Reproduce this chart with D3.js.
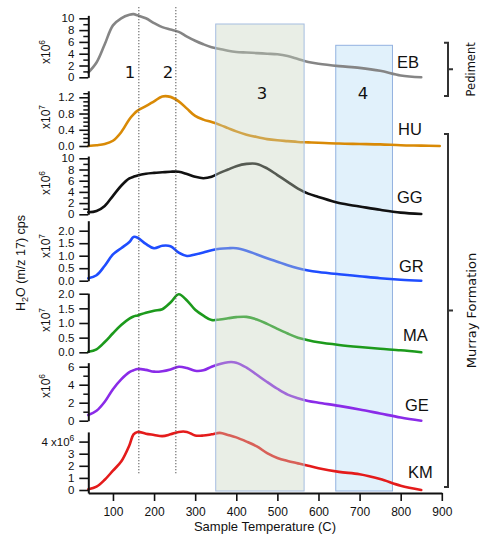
<!DOCTYPE html>
<html lang="en">
<head>
<meta charset="UTF-8">
<title>H2O evolved gas traces</title>
<script src="https://d3js.org/d3.v7.min.js"></script>
<style>
    body { margin: 0; padding: 0; background: #fff; }
    svg { display: block; }
    text { font-family: "Liberation Sans", Arial, Helvetica, sans-serif; fill: #111; }
    .num, .bracket-label { font-family: "DejaVu Sans", Verdana, sans-serif; }
</style>
</head>
<body>
<div id="chart"></div>
<script>
// temperature grid (C) shared by every trace
const temps = [40, 60, 80, 100, 120, 140, 150, 160, 180, 200,
    220, 240, 260, 280, 300, 320, 340, 360, 380, 400,
    425, 450, 475, 500, 525, 550, 575, 600,
    650, 700, 750, 800, 850, 895];

// trace values, in units of the panel multiplier
const eb = [0.8, 2.5, 5.6, 8.8, 10.0, 10.6, 10.7, 10.5, 10.0, 9.2,
    8.5, 8.1, 7.7, 6.9, 6.2, 5.6, 5.1, 4.8, 4.5, 4.3,
    4.2, 4.1, 4.0, 3.9, 3.6, 3.1, 2.6, 2.3,
    1.9, 1.6, 1.1, 0.3, 0.0, null];
const hu = [0.0, 0.02, 0.05, 0.13, 0.34, 0.66, 0.78, 0.87, 0.98, 1.1,
    1.22, 1.21, 1.1, 0.92, 0.74, 0.65, 0.59, 0.52, 0.44, 0.36,
    0.28, 0.22, 0.17, 0.14, 0.12, 0.1, 0.09, 0.08,
    0.06, 0.05, 0.04, 0.02, 0.01, 0.0];
const gg = [0.36, 0.6, 1.5, 3.3, 5.1, 6.4, 6.7, 6.95, 7.25, 7.4,
    7.5, 7.6, 7.6, 7.2, 6.7, 6.45, 6.7, 7.4, 8.0, 8.6,
    9.0, 9.0, 8.2, 7.0, 5.8, 4.6, 3.7, 3.1,
    2.0, 1.4, 0.8, 0.3, 0.05, null];
const gr = [0.1, 0.22, 0.6, 1.05, 1.3, 1.55, 1.75, 1.72, 1.47, 1.3,
    1.4, 1.38, 1.12, 0.99, 1.05, 1.13, 1.22, 1.28, 1.3, 1.3,
    1.2, 1.05, 0.9, 0.76, 0.62, 0.5, 0.41, 0.35,
    0.26, 0.18, 0.1, 0.04, 0.0, null];
const ma = [0.02, 0.1, 0.35, 0.65, 0.93, 1.15, 1.22, 1.26, 1.35, 1.42,
    1.47, 1.7, 1.98, 1.77, 1.45, 1.25, 1.1, 1.12, 1.16, 1.2,
    1.21, 1.12, 0.97, 0.8, 0.64, 0.5, 0.41, 0.34,
    0.25, 0.18, 0.12, 0.07, 0.0, null];
const ge = [0.63, 1.1, 2.1, 3.5, 4.6, 5.4, 5.6, 5.75, 5.65, 5.45,
    5.5, 5.7, 6.0, 5.85, 5.55, 5.6, 6.0, 6.3, 6.5, 6.45,
    5.9, 5.1, 4.3, 3.55, 2.9, 2.5, 2.2, 2.0,
    1.65, 1.25, 0.8, 0.35, 0.0, null];
const km = [0.06, 0.28, 0.85, 1.6, 2.35, 3.7, 4.6, 4.8, 4.65, 4.55,
    4.45, 4.6, 4.8, 4.8, 4.5, 4.5, 4.6, 4.72, 4.55, 4.35,
    4.0, 3.6, 3.05, 2.65, 2.4, 2.2, 2.0, 1.8,
    1.5, 1.3, 0.9, 0.35, 0.0, null];

// tick labels
const ticksTen = [0, 2, 4, 6, 8, 10];
const minorTen = [1, 3, 5, 7, 9];
const ticksHU = [0, 0.4, 0.8, 1.2];
const minorHU = [0.1, 0.2, 0.3, 0.5, 0.6, 0.7, 0.9, 1.0, 1.1, 1.3];
const ticksTwo = [0, 0.5, 1.0, 1.5, 2.0];
const ticksGE = [0, 2, 4, 6];
const minorGE = [1, 3, 5];
const ticksKM = [0, 1, 2, 3, 4];
const xTicks = [100, 200, 300, 400, 500, 600, 700, 800, 900];

// temperature regions
const region3 = [350, 565];
const region4 = [642, 780];
const stepLines = [163, 253];

const W = 480, H = 535;
const svg = d3.select("#chart").append("svg")
    .attr("width", W)
    .attr("height", H);

const x = d3.scaleLinear().domain([40, 900]).range([88.3, 441.8]);
const axisX = 88.3;

// one entry per panel: baseline pixel, pixels per unit, axis top value
const panels = [
    {name: "EB", data: eb, color: "#858585", zero: 77.3, unit: 5.9, lo: 0, hi: 10.5,
        ticks: ticksTen, minor: minorTen, fmt: d3.format("d"), exp: "6", multY: 52, lx: 397, ly: 68},
    {name: "HU", data: hu, color: "#d98a06", zero: 146, unit: 40.6, lo: 0, hi: 1.36,
        ticks: ticksHU, minor: minorHU, fmt: d3.format(".1f"), exp: "7", multY: 117, lx: 398, ly: 135},
    {name: "GG", data: gg, color: "#111111", zero: 214.3, unit: 5.6, lo: 0, hi: 10.4,
        ticks: ticksTen, minor: minorTen, fmt: d3.format("d"), exp: "6", multY: 183, lx: 397, ly: 203},
    {name: "GR", data: gr, color: "#1f4dff", zero: 280.7, unit: 25, lo: 0, hi: 2.4,
        ticks: ticksTwo, minor: [], fmt: d3.format(".1f"), exp: "7", multY: 246, lx: 399, ly: 272},
    {name: "MA", data: ma, color: "#1c9a1c", zero: 352.3, unit: 29.3, lo: 0, hi: 2.02,
        ticks: ticksTwo, minor: [], fmt: d3.format(".1f"), exp: "7", multY: 320, lx: 403, ly: 341},
    {name: "GE", data: ge, color: "#8a2be8", zero: 420.7, unit: 9, lo: 0, hi: 6.45,
        ticks: ticksGE, minor: minorGE, fmt: d3.format("d"), exp: "6", multY: 386, lx: 405, ly: 411},
    {name: "KM", data: km, color: "#e41b1b", zero: 490, unit: 12.1, lo: -0.25, hi: 4.8,
        ticks: ticksKM, minor: [], fmt: d3.format("d"), exp: null, multY: null, lx: 408, ly: 478}
];

const plotTop = 7, plotBottom = 491;

// region 4 sits behind the traces
svg.append("rect")
    .attr("x", x(region4[0]))
    .attr("y", 45.3)
    .attr("width", x(region4[1]) - x(region4[0]))
    .attr("height", plotBottom - 45.3)
    .attr("fill", "#e1f1fb")
    .attr("stroke", "#93b2e0")
    .attr("stroke-width", 1);

// traces
panels.forEach(p => {
    p.y = d3.scaleLinear()
        .domain([p.lo, p.hi])
        .range([p.zero - p.lo * p.unit, p.zero - p.hi * p.unit]);

    const line = d3.line()
        .defined(d => d[1] != null)
        .x(d => x(d[0]))
        .y(d => p.y(d[1]))
        .curve(d3.curveCatmullRom.alpha(0.5));

    svg.append("path")
        .datum(temps.map((t, i) => [t, p.data[i]]))
        .attr("fill", "none")
        .attr("stroke", p.color)
        .attr("stroke-width", 2.6)
        .attr("stroke-linejoin", "round")
        .attr("stroke-linecap", "round")
        .attr("d", line);
});

// dotted step markers
svg.selectAll("line.step")
    .data(stepLines)
    .enter().append("line")
    .attr("class", "step")
    .attr("x1", d => x(d)).attr("x2", d => x(d))
    .attr("y1", plotTop).attr("y2", 475)
    .attr("stroke", "#555")
    .attr("stroke-width", 1)
    .attr("stroke-dasharray", "1.3,1.7");

// region 3 is laid over the traces, washing them out
svg.append("rect")
    .attr("x", x(region3[0]))
    .attr("y", 24)
    .attr("width", x(region3[1]) - x(region3[0]))
    .attr("height", plotBottom - 24)
    .attr("fill", "rgb(196,210,190)")
    .attr("fill-opacity", 0.38)
    .attr("stroke", "#a6bde0")
    .attr("stroke-width", 1);

// y axes
panels.forEach(p => {
    const gAxis = svg.append("g").attr("transform", `translate(${axisX},0)`);

    gAxis.append("g")
        .call(d3.axisLeft(p.y).tickValues(p.minor).tickSize(5).tickSizeOuter(0).tickFormat(""))
        .call(g => g.select(".domain").remove())
        .selectAll("line").attr("stroke", "#111").attr("stroke-width", 1.5);

    const major = gAxis.append("g")
        .call(d3.axisLeft(p.y).tickValues(p.ticks).tickSize(9).tickSizeOuter(0)
            .tickPadding(5).tickFormat(p.fmt));
    major.select(".domain").attr("stroke", "#111").attr("stroke-width", 2);
    major.selectAll("line").attr("stroke", "#111").attr("stroke-width", 1.6);
    major.selectAll("text")
        .attr("font-size", 11.5)
        .attr("font-family", "Liberation Sans, Arial, sans-serif")
        .attr("fill", "#111");

    if (p.name === "KM") {
        const t = major.selectAll(".tick text").filter(d => d === 4);
        t.text("4 x10");
        t.append("tspan").attr("dy", -5).attr("font-size", 8.5).text("6");
    }

    if (p.exp) {
        const m = svg.append("text")
            .attr("transform", `translate(50,${p.multY}) rotate(-90)`)
            .attr("text-anchor", "middle")
            .attr("font-size", 12);
        m.append("tspan").text("x10");
        m.append("tspan").attr("dy", -5).attr("font-size", 8.5).text(p.exp);
    }

    svg.append("text")
        .attr("x", p.lx)
        .attr("y", p.ly)
        .attr("font-size", 16.5)
        .text(p.name);
});

// x axis
const xAxis = svg.append("g")
    .attr("transform", "translate(0,493)")
    .call(d3.axisBottom(x).tickValues(xTicks).tickSize(8).tickSizeOuter(0).tickPadding(6));
xAxis.select(".domain").attr("stroke", "#111").attr("stroke-width", 2);
xAxis.selectAll("line").attr("stroke", "#111").attr("stroke-width", 1.6);
xAxis.selectAll("text")
    .attr("font-size", 12)
    .attr("font-family", "Liberation Sans, Arial, sans-serif")
    .attr("fill", "#111");

svg.append("text")
    .attr("x", 265)
    .attr("y", 531)
    .attr("text-anchor", "middle")
    .attr("font-size", 13)
    .text("Sample Temperature (C)");

// y title
const yt = svg.append("text")
    .attr("transform", "translate(25,263) rotate(-90)")
    .attr("text-anchor", "middle")
    .attr("font-size", 12.5);
yt.append("tspan").text("H");
yt.append("tspan").attr("dy", 3).attr("font-size", 9).text("2");
yt.append("tspan").attr("dy", -3).text("O (m/z 17) cps");

// region numbers
const regionNums = [
    {t: "1", x: 130, y: 78},
    {t: "2", x: 168, y: 78},
    {t: "3", x: 262, y: 99},
    {t: "4", x: 363, y: 99}
];
svg.selectAll("text.num")
    .data(regionNums)
    .enter().append("text")
    .attr("class", "num")
    .attr("x", d => d.x)
    .attr("y", d => d.y)
    .attr("text-anchor", "middle")
    .attr("font-size", 16.5)
    .text(d => d.t);

// formation brackets on the right
const brackets = [
    {label: "Pediment", top: 42.7, bottom: 96, size: 11.5},
    {label: "Murray Formation", top: 134, bottom: 487, size: 13}
];
brackets.forEach(b => {
    const mid = (b.top + b.bottom) / 2;
    svg.append("path")
        .attr("d", `M444,${b.top}H448V${b.bottom}H444M448,${mid}H453`)
        .attr("fill", "none")
        .attr("stroke", "#333")
        .attr("stroke-width", 2);
    svg.append("text")
        .attr("class", "bracket-label")
        .attr("transform", `translate(471,${mid}) rotate(-90)`)
        .attr("text-anchor", "middle")
        .attr("dominant-baseline", "central")
        .attr("font-size", b.size)
        .text(b.label);
});
</script>
</body>
</html>
